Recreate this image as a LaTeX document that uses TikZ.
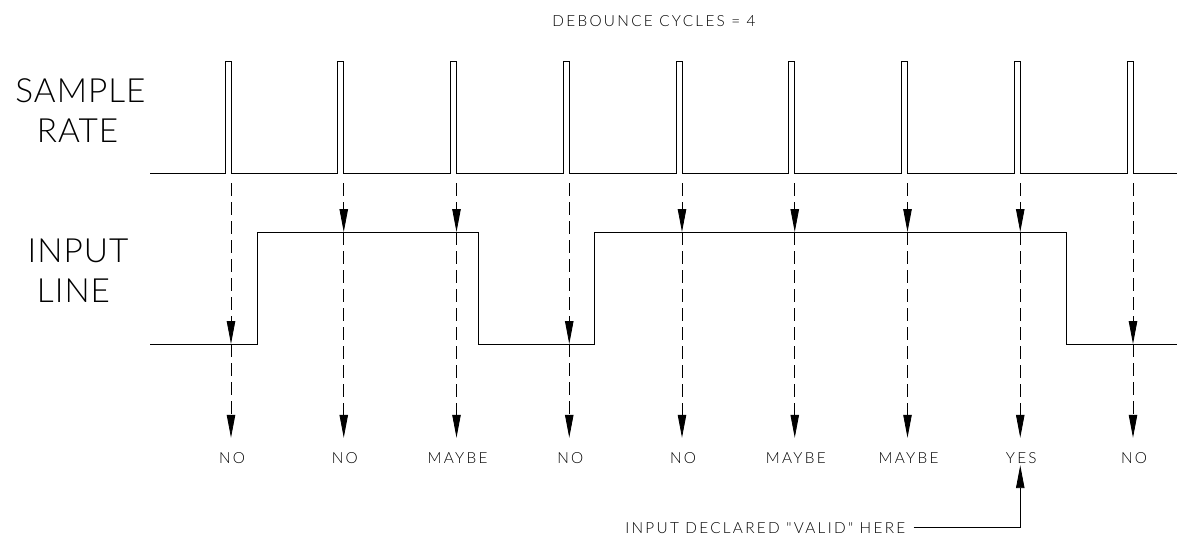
\documentclass[tikz,border=0pt]{standalone}
\usepackage{fontspec}
\setmainfont{Lato}[UprightFont=* Light]
\newfontfamily\cadfont{Lato}[UprightFont=* Light, LetterSpace=15]
\newfontfamily\cadbig{Lato}[UprightFont=* Light, LetterSpace=3]
\usetikzlibrary{arrows.meta}
\usepackage{xcolor}

\begin{document}
\begin{tikzpicture}[x=0.025cm, y=-0.025cm,
      every node/.style={font=\cadfont\fontsize{10.9}{13}\selectfont},
      trace/.style={line width=0.6pt},
      txt/.style={inner sep=0pt, text height=0.275cm, text depth=0pt},
      big/.style={font=\cadbig\fontsize{23.7}{28.45}\selectfont, inner sep=0pt, anchor=base},
      probe/.style={line width=0.6pt, dash pattern=on 0.325cm off 0.15cm,
                    -{Triangle[length=0.57cm, width=0.21cm]}}]
    \useasboundingbox (0,0) rectangle (1177,535);
    % titles
    \node[txt]  (title)  at (654,20.5) {DEBOUNCE CYCLES = 4};
    \node[big]  (sample) at (80.5,102) {SAMPLE};
    \node[big]  (rate)   at (77.5,142) {RATE};
    \node[big]  (input)  at (78,262)   {INPUT};
    \node[big]  (line)   at (73.5,302) {LINE};
    % signals
    \draw[trace] (150,173) \foreach \s in {231,343.75,456.5,569.25,682,794.75,907.5,1020.25,1133}
        { -- (\s-6,173) -- (\s-6,61) -- (\s,61) -- (\s,173) } -- (1177,173);
    \draw[trace] (150,344) -- (257,344) -- (257,232) -- (478,232) -- (478,344)
        -- (594,344) -- (594,232) -- (1066,232) -- (1066,344) -- (1177,344);
    % sample points
    \coordinate (t1) at (231,183);     \coordinate (h1) at (231,344);
    \coordinate (t2) at (343.75,183);  \coordinate (h2) at (343.75,232);
    \coordinate (t3) at (456.5,183);   \coordinate (h3) at (456.5,232);
    \coordinate (t4) at (569.25,183);  \coordinate (h4) at (569.25,344);
    \coordinate (t5) at (682,183);     \coordinate (h5) at (682,232);
    \coordinate (t6) at (794.75,183);  \coordinate (h6) at (794.75,232);
    \coordinate (t7) at (907.5,183);   \coordinate (h7) at (907.5,232);
    \coordinate (t8) at (1020.25,183); \coordinate (h8) at (1020.25,232);
    \coordinate (t9) at (1133,183);    \coordinate (h9) at (1133,344);
    % results
    \node[txt] (r1) at (232,457.5)     {NO};
    \node[txt] (r2) at (344.75,457.5)  {NO};
    \node[txt] (r3) at (457.5,457.5)   {MAYBE};
    \node[txt] (r4) at (570.25,457.5)  {NO};
    \node[txt] (r5) at (683,457.5)     {NO};
    \node[txt] (r6) at (795.75,457.5)  {MAYBE};
    \node[txt] (r7) at (908.5,457.5)   {MAYBE};
    \node[txt] (r8) at (1021.25,457.5) {YES};
    \node[txt] (r9) at (1134,457.5)    {NO};
    \foreach \i in {1,...,9} {
      \draw[probe] (t\i) -- (h\i);
      \draw[probe, shorten >=0.35cm] (h\i) -- (h\i |- r\i.north);
    }
    % note
    \node[txt, anchor=west] (note) at (625,527.5) {INPUT DECLARED "VALID" HERE};
    \draw[trace, -{Triangle[length=0.57cm, width=0.21cm]}, shorten >=0.05cm]
        ([xshift=0.2cm]note.east) -| (h8 |- r8.south);
  \end{tikzpicture}
\end{document}
